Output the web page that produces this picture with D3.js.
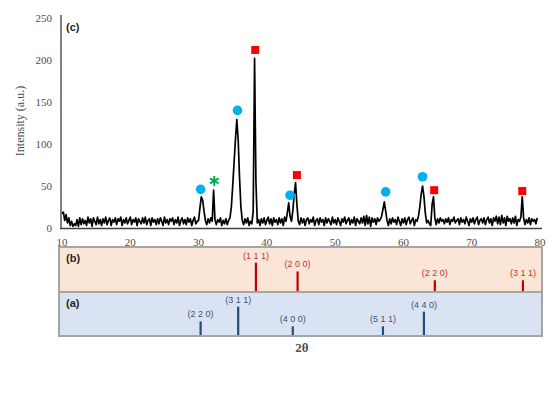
<!DOCTYPE html>
<html><head><meta charset="utf-8">
<script src="https://cdn.jsdelivr.net/npm/d3@7"></script>
<style>body{margin:0;background:#fff}svg{display:block}</style>
</head><body>
<svg id="c" width="557" height="393"></svg>
<script>
// ---- data ----
const twoThetaStart = 10, twoThetaStep = 0.2;
const intensity = [
 17,19,9,16,6,12,3,8,2,5,
 3,10,2,12,4,11,5,9,3,13,
 6,11,2,12,8,4,13,5,10,3,
 11,6,13,4,9,12,3,10,7,12,
 4,11,8,13,3,10,6,12,5,9,
 13,4,10,7,12,3,11,8,5,12,
 6,13,4,9,11,3,12,7,10,4,
 11,5,12,8,3,13,6,10,4,11,
 8,12,4,10,6,13,3,9,12,5,
 10,4,12,7,11,3,9,13,5,8,
 9,24,37,33,20,9,4,11,6,12,
 8,45,10,4,10,7,12,3,9,5,
 11,4,9,12,25,50,78,105,129,105,
 60,25,9,4,11,6,12,3,8,5,
 20,202,55,6,10,3,11,6,12,4,
 9,13,5,11,3,12,7,10,4,12,
 6,11,3,13,8,18,30,14,8,20,
 40,54,28,8,4,12,6,11,3,10,
 12,5,10,7,13,3,9,11,4,12,
 7,10,3,12,6,11,8,4,13,6,
 10,4,12,8,3,11,7,13,5,9,
 12,4,10,6,13,3,11,8,5,12,
 6,14,3,15,5,13,2,12,7,11,
 4,12,8,10,14,22,31,20,9,3,
 11,5,12,7,10,4,13,8,3,11,
 6,12,4,10,13,5,9,12,3,10,
 8,14,25,40,50,38,18,6,9,5,
 3,28,37,12,4,11,6,12,8,10,
 5,11,7,12,4,10,8,13,6,9,
 11,4,12,7,10,5,13,8,3,11,
 7,12,5,10,13,4,9,11,6,12,
 4,10,13,6,11,3,12,8,14,5,
 13,4,15,6,12,3,14,8,11,5,
 12,6,14,3,10,8,13,37,12,4,
 10,6,12,4,11,8,10,5,12
];
const xTicks = [10,20,30,40,50,60,70,80];
const yTicks = [0,50,100,150,200,250];

// markers (2θ, intensity)
const squareMarks = [[38.3,212],[44.4,63],[64.5,45],[77.4,44]];
const circleMarks = [[30.3,46],[35.7,140],[43.4,39],[57.4,43],[62.8,61]];
const starMarks = [[32.3,56]];

// reference patterns (b) and (a)
const refB = [{pos:38.4,h:100,hkl:"(1 1 1)"},{pos:44.5,h:70,hkl:"(2 0 0)"},{pos:64.6,h:40,hkl:"(2 2 0)"},{pos:77.5,h:40,hkl:"(3 1 1)"}];
const refA = [{pos:30.3,h:50,hkl:"(2 2 0)"},{pos:35.8,h:100,hkl:"(3 1 1)"},{pos:43.8,h:33,hkl:"(4 0 0)"},{pos:57.0,h:33,hkl:"(5 1 1)"},{pos:63.0,h:83,hkl:"(4 4 0)"}];

// ---- drawing ----
const svg = d3.select("#c");
const x = d3.scaleLinear().domain([10,80]).range([62,540]);
const y = d3.scaleLinear().domain([0,250]).range([228,18]);
const serif = "'Liberation Serif','Times New Roman',serif";
const sans = "'Liberation Sans',Arial,sans-serif";

// panels
const yB = d3.scaleLinear().domain([0,150]).range([292,248]);
const yA = d3.scaleLinear().domain([0,150]).range([336,292]);
svg.append("rect").attr("x",59).attr("y",247).attr("width",483).attr("height",45)
  .attr("fill","#fbe5d6").attr("stroke","#a5a5a5").attr("stroke-width",2);
svg.append("rect").attr("x",59).attr("y",292).attr("width",483).attr("height",44)
  .attr("fill","#dae3f3").attr("stroke","#a5a5a5").attr("stroke-width",2);

function sticks(data, ys, col, lcol){
  const g = svg.append("g");
  g.selectAll("line").data(data).join("line")
    .attr("x1",d=>x(d.pos)).attr("x2",d=>x(d.pos))
    .attr("y1",ys(0)-1).attr("y2",d=>ys(d.h))
    .attr("stroke",col).attr("stroke-width",2.2);
  g.selectAll("text").data(data).join("text")
    .attr("x",d=>x(d.pos)).attr("y",d=>ys(d.h)-4)
    .attr("text-anchor","middle").attr("font-family",sans).attr("font-size",9)
    .attr("fill",lcol).text(d=>d.hkl);
}
sticks(refB, yB, "#c00000", "#c0392b");
sticks(refA, yA, "#1f4e79", "#44546a");

svg.append("text").attr("x",66).attr("y",262).attr("font-family",sans).attr("font-weight","bold")
  .attr("font-size",11).attr("fill","#262626").text("(b)");
svg.append("text").attr("x",66).attr("y",307).attr("font-family",sans).attr("font-weight","bold")
  .attr("font-size",11).attr("fill","#262626").text("(a)");

// main axes
svg.append("line").attr("x1",61).attr("x2",61).attr("y1",15).attr("y2",229)
  .attr("stroke","#7f7f7f").attr("stroke-width",2);
svg.append("line").attr("x1",60).attr("x2",542).attr("y1",228.5).attr("y2",228.5)
  .attr("stroke","#404040").attr("stroke-width",1.5);

svg.append("g").selectAll("text").data(yTicks).join("text")
  .attr("x",52).attr("y",d=>y(d)+4).attr("text-anchor","end")
  .attr("font-family",serif).attr("font-size",11).attr("fill","#4d4d4d").text(d=>d);
svg.append("g").selectAll("text").data(xTicks).join("text")
  .attr("x",d=>x(d)).attr("y",246).attr("text-anchor","middle")
  .attr("font-family",serif).attr("font-size",11).attr("fill","#4d4d4d").text(d=>d);

svg.append("text").attr("transform","translate(24,121) rotate(-90)").attr("text-anchor","middle")
  .attr("font-family",serif).attr("font-size",12).attr("fill","#4d4d4d").text("Intensity (a.u.)");
svg.append("text").attr("x",302).attr("y",352).attr("text-anchor","middle")
  .attr("font-family",serif).attr("font-size",13).attr("font-weight","bold").attr("fill","#4d4d4d").text("2θ");
svg.append("text").attr("x",66).attr("y",31).attr("font-family",sans).attr("font-weight","bold")
  .attr("font-size",11).attr("fill","#262626").text("(c)");

// curve
const pts = intensity.map((v,i)=>[twoThetaStart+i*twoThetaStep, v]);
svg.append("path").datum(pts)
  .attr("d", d3.line().x(d=>x(d[0])).y(d=>y(d[1])))
  .attr("fill","none").attr("stroke","#000").attr("stroke-width",1.7).attr("stroke-linejoin","round");

// markers
svg.append("g").selectAll("rect").data(squareMarks).join("rect")
  .attr("x",d=>x(d[0])-4).attr("y",d=>y(d[1])-4).attr("width",8).attr("height",8).attr("fill","#ff0000");
svg.append("g").selectAll("circle").data(circleMarks).join("circle")
  .attr("cx",d=>x(d[0])).attr("cy",d=>y(d[1])).attr("r",4.8).attr("fill","#00b0f0");
svg.append("g").selectAll("path").data(starMarks).join("path")
  .attr("transform",d=>`translate(${x(d[0])},${y(d[1])})`)
  .attr("d", d3.symbol().type(d3.symbolAsterisk).size(70))
  .attr("fill","none").attr("stroke","#00b050").attr("stroke-width",2);
</script>
</body></html>
